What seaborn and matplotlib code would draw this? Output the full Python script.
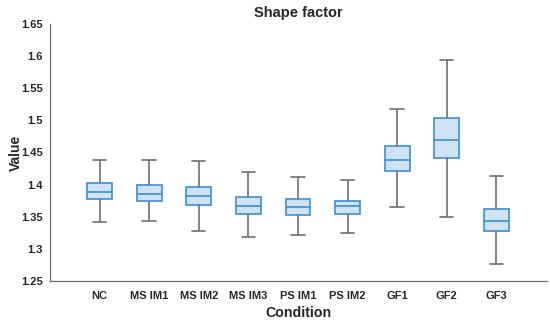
import numpy as np
import pandas as pd
import matplotlib
matplotlib.use("Agg")
import matplotlib.pyplot as plt
import seaborn as sns

sns.set_style("white")
plt.rcParams["font.family"] = ["Liberation Sans", "DejaVu Sans"]

# five-number summaries (min, Q1, median, Q3, max)
conditions = ["NC", "MS IM1", "MS IM2", "MS IM3", "PS IM1", "PS IM2", "GF1", "GF2", "GF3"]
lows    = [1.342, 1.343, 1.328, 1.318, 1.322, 1.324, 1.365, 1.350, 1.276]
q1s     = [1.377, 1.3745, 1.369, 1.355, 1.353, 1.355, 1.421, 1.441, 1.328]
medians = [1.3885, 1.386, 1.383, 1.367, 1.365, 1.366, 1.438, 1.4695, 1.344]
q3s     = [1.402, 1.399, 1.396, 1.381, 1.377, 1.375, 1.460, 1.503, 1.362]
highs   = [1.439, 1.438, 1.436, 1.420, 1.412, 1.407, 1.517, 1.594, 1.414]

# five points per group -> quartiles land exactly on the summary values
rows = []
for c, lo, a, m, b, hi in zip(conditions, lows, q1s, medians, q3s, highs):
    for v in (lo, a, m, b, hi):
        rows.append({"Condition": c, "Value": v})
df = pd.DataFrame(rows)

edge = "#3b8fd4"
gray = "#6e6e6e"

fig = plt.figure(figsize=(5.5, 3.2), dpi=100)
ax = fig.add_axes([0.0909, 0.122, 0.9036, 0.803])
box_kws = dict(data=df, x="Condition", y="Value", order=conditions, ax=ax,
               width=0.5, whis=(0, 100), color="#cfe3f4", linecolor=edge,
               linewidth=1.2, showfliers=False,
               whiskerprops=dict(color=gray, linewidth=1.2),
               capprops=dict(color=gray, linewidth=1.2),
               medianprops=dict(color=edge, linewidth=1.2),
               boxprops=dict(edgecolor=edge, facecolor="#cfe3f4", linewidth=1.2))
try:
    sns.boxplot(capwidths=0.27, **box_kws)
except TypeError:
    ax.cla()
    sns.boxplot(**box_kws)

ax.set_xlim(-1, 9.02)
ax.set_ylim(1.25, 1.65)
ax.set_yticks(np.arange(1.25, 1.651, 0.05))
ax.set_yticklabels(["1.25", "1.3", "1.35", "1.4", "1.45", "1.5", "1.55", "1.6", "1.65"])
ax.tick_params(axis="both", direction="in", length=4, color=gray, width=0.8,
               labelsize=8)
ax.tick_params(axis="x", pad=7)
ax.tick_params(axis="y", pad=5)
for lab in ax.get_xticklabels() + ax.get_yticklabels():
    lab.set_fontweight("bold")
for s in ["top", "right"]:
    ax.spines[s].set_visible(False)
for s in ["left", "bottom"]:
    ax.spines[s].set_color(gray)
    ax.spines[s].set_linewidth(0.9)

ax.set_title("Shape factor", fontsize=10.5, fontweight="bold", pad=5)
ax.set_xlabel("Condition", fontsize=10.2, fontweight="bold", labelpad=4)
ax.set_ylabel("Value", fontsize=10, fontweight="bold", labelpad=-1)

fig.savefig("out.png", dpi=100)
